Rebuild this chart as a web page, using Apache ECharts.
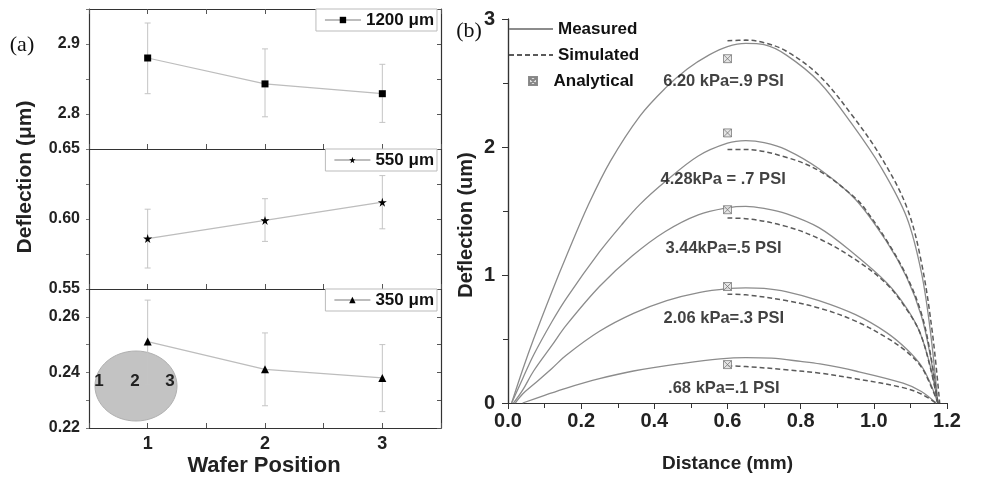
<!DOCTYPE html>
<html><head><meta charset="utf-8">
<script src="https://cdn.jsdelivr.net/npm/echarts@6/dist/echarts.min.js"></script>
<style>html,body{margin:0;padding:0;background:#fff}#c{width:1000px;height:478px}</style>
</head><body><div id="c"></div><script>
// ---------- Panel (a) data ----------
const waferPos = [1, 2, 3];
const d1200 = [2.880, 2.843, 2.829];
const lo1200 = [2.829, 2.796, 2.788];
const hi1200 = [2.930, 2.893, 2.871];
const d550 = [0.586, 0.599, 0.612];
const lo550 = [0.565, 0.584, 0.593];
const hi550 = [0.607, 0.6145, 0.631];
const d350 = [0.2511, 0.2411, 0.2380];
const lo350 = [0.2358, 0.2280, 0.2259];
const hi350 = [0.2660, 0.2542, 0.2500];
const seriesNamesA = ['1200 μm', '550 μm', '350 μm'];
const waferLabels = ['1', '2', '3'];

// ---------- Panel (b) data ----------
const meas620 = [[0.01,0],[0.04,0.26],[0.07,0.5],[0.12,0.87],[0.16,1.15],[0.22,1.55],[0.28,1.89],[0.36,2.24],[0.43,2.46],[0.49,2.61],[0.55,2.72],[0.60,2.785],[0.65,2.81],[0.70,2.8],[0.76,2.72],[0.85,2.51],[0.94,2.18],[1.02,1.84],[1.09,1.45],[1.13,1.02],[1.155,0.55],[1.175,0]];
const meas428 = [[0.01,0],[0.04,0.19],[0.07,0.375],[0.12,0.635],[0.16,0.82],[0.25,1.18],[0.31,1.39],[0.36,1.55],[0.43,1.73],[0.52,1.93],[0.60,2.03],[0.65,2.05],[0.70,2.035],[0.76,1.98],[0.85,1.83],[0.95,1.59],[1.035,1.26],[1.09,0.98],[1.13,0.68],[1.155,0.36],[1.175,0]];
const meas344 = [[0.015,0],[0.04,0.1],[0.07,0.25],[0.12,0.45],[0.16,0.61],[0.25,0.91],[0.34,1.15],[0.43,1.34],[0.52,1.47],[0.60,1.525],[0.65,1.536],[0.70,1.52],[0.76,1.48],[0.85,1.37],[0.944,1.17],[1.035,0.94],[1.09,0.74],[1.126,0.55],[1.155,0.28],[1.175,0]];
const meas206 = [[0.02,0],[0.04,0.07],[0.068,0.14],[0.12,0.27],[0.16,0.375],[0.25,0.56],[0.343,0.70],[0.434,0.80],[0.525,0.865],[0.607,0.895],[0.65,0.9],[0.70,0.895],[0.76,0.87],[0.85,0.80],[0.95,0.69],[1.035,0.55],[1.09,0.42],[1.13,0.29],[1.155,0.15],[1.175,0]];
const meas068 = [[0.04,0],[0.1,0.06],[0.16,0.117],[0.25,0.19],[0.343,0.25],[0.479,0.31],[0.58,0.345],[0.65,0.355],[0.72,0.35],[0.8,0.325],[0.853,0.305],[0.95,0.25],[1.08,0.155],[1.13,0.09],[1.17,0]];

const sim620 = [[0.6,2.83],[0.65,2.835],[0.7,2.815],[0.76,2.75],[0.85,2.56],[0.94,2.25],[1.02,1.92],[1.09,1.53],[1.13,1.1],[1.16,0.55],[1.18,0]];
const sim428 = [[0.6,1.98],[0.65,1.98],[0.76,1.92],[0.853,1.81],[0.95,1.6],[0.98,1.5],[1.035,1.27],[1.09,0.99],[1.13,0.7],[1.155,0.38],[1.175,0]];
const sim344 = [[0.6,1.445],[0.65,1.44],[0.76,1.38],[0.853,1.28],[0.95,1.12],[1.035,0.93],[1.09,0.73],[1.126,0.55],[1.155,0.27],[1.175,0]];
const sim206 = [[0.6,0.85],[0.65,0.845],[0.76,0.80],[0.853,0.74],[0.95,0.64],[1.035,0.51],[1.09,0.40],[1.13,0.28],[1.155,0.14],[1.175,0]];
const sim068 = [[0.6,0.29],[0.65,0.285],[0.76,0.26],[0.853,0.233],[0.95,0.19],[1.08,0.12],[1.13,0.07],[1.17,0]];

const analyticX = [0.6, 0.6, 0.6, 0.6, 0.6];
const analyticY = [2.69, 2.11, 1.51, 0.91, 0.30];

const pressureLabels = ['6.20 kPa=.9 PSI', '4.28kPa = .7 PSI', '3.44kPa=.5 PSI', '2.06 kPa=.3 PSI', '.68 kPa=.1 PSI'];
const pressureLabelX = [0.589, 0.588, 0.589, 0.590, 0.590];
const pressureLabelY = [2.51, 1.748, 1.204, 0.66, 0.117];

const xTicksB = [0, 1.2];
const FONT = "'Liberation Sans', Arial, sans-serif";
const AX = '#333';

function errRender(params, api) {
  const x = api.value(0), lo = api.value(1), hi = api.value(2);
  const pLo = api.coord([x, lo]), pHi = api.coord([x, hi]);
  const w = 3, st = { stroke: '#c4c4c4', lineWidth: 1 };
  return { type: 'group', children: [
    { type: 'line', shape: { x1: pLo[0], y1: pLo[1], x2: pHi[0], y2: pHi[1] }, style: st },
    { type: 'line', shape: { x1: pLo[0]-w, y1: pLo[1], x2: pLo[0]+w, y2: pLo[1] }, style: st },
    { type: 'line', shape: { x1: pHi[0]-w, y1: pHi[1], x2: pHi[0]+w, y2: pHi[1] }, style: st }
  ]};
}
function zip(xs, ys) { return xs.map((x, i) => [x, ys[i]]); }
function zip3(xs, a, b) { return xs.map((x, i) => [x, a[i], b[i]]); }

const starPath = 'path://M50,0 L61,35 L98,35 L68,57 L79,91 L50,70 L21,91 L32,57 L2,35 L39,35 Z';
const symbolsA = ['rect', starPath, 'triangle'];
const sizesA = [7, 9, 8];
const dataA = [d1200, d550, d350];
const loA = [lo1200, lo550, lo350];
const hiA = [hi1200, hi550, hi350];

const grids = [
  { left: 89, width: 352, top: 9, height: 140 },
  { left: 89, width: 352, top: 149, height: 140 },
  { left: 89, width: 352, top: 289, height: 139 },
  { left: 508, width: 439, top: 19, height: 386 }
];

const labelA = { fontFamily: FONT, fontWeight: 'bold', fontSize: 16, color: '#222' };
const xAxes = [];
for (let i = 0; i < 3; i++) {
  xAxes.push({ type: 'value', gridIndex: i, min: 0.5, max: 3.5, interval: 0.5,
    axisLine: { lineStyle: { color: AX, width: 1.2 } },
    axisTick: { inside: true, length: 5, lineStyle: { color: '#555' } },
    splitLine: { show: false },
    axisLabel: { show: i === 2, margin: 7, ...labelA, fontSize: 18,
      formatter: v => (Math.abs(v - Math.round(v)) < 1e-6 ? String(Math.round(v)) : '') }
  });
}
xAxes.push({ type: 'value', gridIndex: 0, position: 'top', min: 0.5, max: 3.5, interval: 0.5,
  axisLine: { lineStyle: { color: AX, width: 1.2 } },
  axisTick: { inside: true, length: 5, lineStyle: { color: '#555' } },
  splitLine: { show: false }, axisLabel: { show: false } });
// panel b
xAxes.push({ type: 'value', gridIndex: 3, min: xTicksB[0], max: xTicksB[1], interval: 0.2,
  axisLine: { lineStyle: { color: AX, width: 1.2 } },
  axisTick: { inside: false, length: 6, lineStyle: { color: AX } },
  minorTick: { show: true, splitNumber: 2, length: 3, lineStyle: { color: AX } },
  splitLine: { show: false },
  axisLabel: { margin: 8, fontFamily: FONT, fontWeight: 'bold', fontSize: 20, color: '#222', formatter: v => v.toFixed(1) },
  name: 'Distance (mm)', nameLocation: 'middle', nameGap: 51,
  nameTextStyle: { fontFamily: FONT, fontWeight: 'bold', fontSize: 19, color: '#222' } });
xAxes.push({ type: 'value', gridIndex: 3, position: 'top', min: xTicksB[0], max: xTicksB[1], interval: 0.1,
  axisLine: { lineStyle: { color: AX, width: 1.2 } },
  axisTick: { inside: true, length: 5, lineStyle: { color: AX } },
  splitLine: { show: false }, axisLabel: { show: false } });

const yCfg = [
  { min: 2.75, max: 2.95, interval: 0.05, fmt: v => (Math.abs(v*10 - Math.round(v*10)) < 1e-6 && v > 2.76 && v < 2.94 ? v.toFixed(1) : '') },
  { min: 0.55, max: 0.65, interval: 0.025, fmt: v => (Math.abs(v*20 - Math.round(v*20)) < 1e-6 ? v.toFixed(2) : '') },
  { min: 0.22, max: 0.27, interval: 0.01, fmt: v => (Math.abs(v*50 - Math.round(v*50)) < 1e-6 && v < 0.265 ? v.toFixed(2) : '') }
];
const yAxes = [];
for (let i = 0; i < 3; i++) {
  yAxes.push({ type: 'value', gridIndex: i, min: yCfg[i].min, max: yCfg[i].max, interval: yCfg[i].interval,
    axisLine: { show: true, lineStyle: { color: AX, width: 1.2 } },
    axisTick: { show: true, inside: false, length: 3, lineStyle: { color: '#777' } },
    splitLine: { show: false },
    axisLabel: { margin: 9, ...labelA, formatter: yCfg[i].fmt } });
}
for (let i = 0; i < 3; i++) {
  yAxes.push({ type: 'value', gridIndex: i, position: 'right', min: yCfg[i].min, max: yCfg[i].max, interval: yCfg[i].interval,
    axisLine: { show: true, lineStyle: { color: AX, width: 1.2 } },
    axisTick: { show: true, inside: true, length: 4, lineStyle: { color: '#555' } },
    splitLine: { show: false }, axisLabel: { show: false } });
}
yAxes.push({ type: 'value', gridIndex: 3, min: 0, max: 3, interval: 1,
  axisLine: { show: true, lineStyle: { color: AX, width: 1.2 } },
  axisTick: { show: true, inside: false, length: 6, lineStyle: { color: AX } },
  minorTick: { show: true, splitNumber: 2, length: 4, lineStyle: { color: AX } },
  splitLine: { show: false },
  axisLabel: { margin: 13, fontFamily: FONT, fontWeight: 'bold', fontSize: 20, color: '#222' } });
yAxes.push({ type: 'value', gridIndex: 3, position: 'right', min: 0, max: 3, interval: 0.5,
  axisLine: { show: true, lineStyle: { color: AX, width: 1.2 } },
  axisTick: { show: true, inside: true, length: 5, lineStyle: { color: AX } },
  splitLine: { show: false }, axisLabel: { show: false } });

const series = [];
for (let i = 0; i < 3; i++) {
  series.push({ type: 'custom', name: 'err' + i, xAxisIndex: i, yAxisIndex: i, z: 3,
    renderItem: errRender, encode: { x: 0, y: [1, 2] }, data: zip3(waferPos, loA[i], hiA[i]), silent: true });
  series.push({ type: 'line', name: seriesNamesA[i], xAxisIndex: i, yAxisIndex: i, z: 4,
    data: zip(waferPos, dataA[i]), symbol: symbolsA[i], symbolSize: sizesA[i],
    itemStyle: { color: '#000' }, lineStyle: { color: '#bdbdbd', width: 1.2 } });
}
const measured = [meas620, meas428, meas344, meas206, meas068];
const simulated = [sim620, sim428, sim344, sim206, sim068];
measured.forEach(d => series.push({ type: 'line', name: 'Measured', xAxisIndex: 4, yAxisIndex: 6,
  data: d, symbol: 'none', smooth: 0.35, lineStyle: { color: '#8c8c8c', width: 1.3 }, itemStyle: { color: '#8c8c8c' } }));
simulated.forEach(d => series.push({ type: 'line', name: 'Simulated', xAxisIndex: 4, yAxisIndex: 6,
  data: d, symbol: 'none', smooth: 0.35, lineStyle: { color: '#5a5a5a', width: 1.5, type: [5, 3] }, itemStyle: { color: '#5a5a5a' } }));
const anaSymbol = 'path://M0,0H10V10H0Z M0,0L10,10 M10,0L0,10';
series.push({ type: 'scatter', name: 'Analytical', xAxisIndex: 4, yAxisIndex: 6, z: 5,
  data: zip(analyticX, analyticY), symbol: anaSymbol, symbolSize: 8,
  itemStyle: { color: '#dedede', borderColor: '#6e6e6e', borderWidth: 0.9 } });
series.push({ type: 'scatter', name: 'labels', xAxisIndex: 4, yAxisIndex: 6, z: 6, silent: true,
  symbolSize: 0,
  data: pressureLabels.map((t, i) => ({ name: t, value: [pressureLabelX[i], pressureLabelY[i]] })),
  label: { show: true, position: 'inside', formatter: '{b}', fontFamily: FONT, fontWeight: 'bold', fontSize: 16.5, color: '#111' } });

const legA = [0, 1, 2].map(i => ({
  data: [seriesNamesA[i]], right: 563, top: [9, 149, 289][i],
  orient: 'horizontal', padding: [2, 3, 2, 8], itemWidth: 36, itemHeight: 8, itemGap: 4,
  borderColor: '#bbb', borderWidth: 1, backgroundColor: '#fff', selectedMode: false,
  textStyle: { fontFamily: FONT, fontWeight: 'bold', fontSize: 17, color: '#111', lineHeight: 18 }
}));
const legB = [
  { data: ['Measured'], left: 508, top: 19, padding: 0, itemWidth: 44, itemHeight: 14, selectedMode: false,
    itemStyle: { opacity: 0 },
    textStyle: { fontFamily: FONT, fontWeight: 'bold', fontSize: 17, color: '#111', lineHeight: 20 } },
  { data: ['Simulated'], left: 508, top: 45, padding: 0, itemWidth: 44, itemHeight: 14, selectedMode: false,
    itemStyle: { opacity: 0 },
    textStyle: { fontFamily: FONT, fontWeight: 'bold', fontSize: 17, color: '#111', lineHeight: 20 } },
  { data: ['Analytical'], left: 528, top: 71, padding: 0, itemWidth: 31, itemHeight: 8, selectedMode: false,
    textStyle: { fontFamily: FONT, fontWeight: 'bold', fontSize: 17, color: '#111', lineHeight: 20 } }
];

const option = {
  animation: false,
  backgroundColor: '#fff',
  grid: grids,
  xAxis: xAxes,
  yAxis: yAxes,
  legend: legA.concat(legB),
  series: series,
  graphic: [
    { type: 'ellipse', z: 1, shape: { cx: 136, cy: 386, rx: 41, ry: 35 }, style: { fill: '#c3c3c3', stroke: '#b0b0b0', lineWidth: 1 } },
    { type: 'text', z: 2, x: 99, y: 381, style: { text: waferLabels[0], font: "bold 17px 'Liberation Sans', Arial", fill: '#222', align: 'center', verticalAlign: 'middle' } },
    { type: 'text', z: 2, x: 135, y: 381, style: { text: waferLabels[1], font: "bold 17px 'Liberation Sans', Arial", fill: '#222', align: 'center', verticalAlign: 'middle' } },
    { type: 'text', z: 2, x: 170, y: 381, style: { text: waferLabels[2], font: "bold 17px 'Liberation Sans', Arial", fill: '#222', align: 'center', verticalAlign: 'middle' } },
    { type: 'text', x: 22, y: 45, style: { text: '(a)', font: "22px 'Liberation Serif', 'Times New Roman', serif", fill: '#111', align: 'center', verticalAlign: 'middle' } },
    { type: 'text', x: 469, y: 31, style: { text: '(b)', font: "22px 'Liberation Serif', 'Times New Roman', serif", fill: '#111', align: 'center', verticalAlign: 'middle' } },
    { type: 'text', x: 25, y: 177, rotation: Math.PI / 2, style: { text: 'Deflection (μm)', font: "bold 21px 'Liberation Sans', Arial", fill: '#222', align: 'center', verticalAlign: 'middle' } },
    { type: 'text', x: 466, y: 225, rotation: Math.PI / 2, style: { text: 'Deflection (um)', font: "bold 20px 'Liberation Sans', Arial", fill: '#222', align: 'center', verticalAlign: 'middle' } },
    { type: 'text', x: 264, y: 466, style: { text: 'Wafer Position', font: "bold 22px 'Liberation Sans', Arial", fill: '#222', align: 'center', verticalAlign: 'middle' } }
  ]
};
const chart = echarts.init(document.getElementById('c'), null, { renderer: 'canvas' });
chart.setOption(option);
</script></body></html>
